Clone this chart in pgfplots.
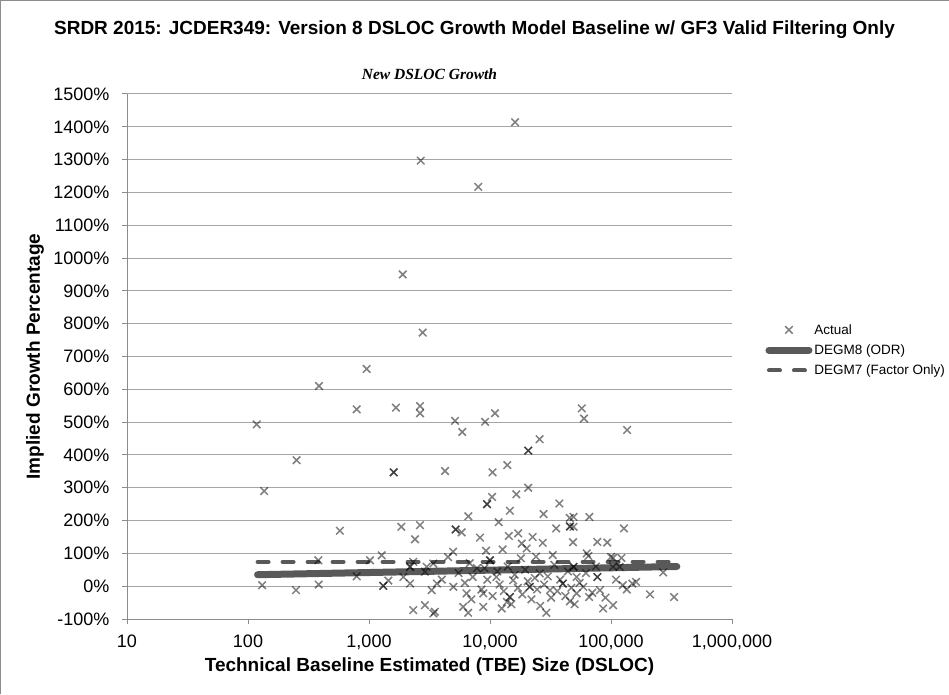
\documentclass[border=0pt]{standalone}
\usepackage{pgfplots}
\pgfplotsset{compat=1.18}
\usepackage{fontspec}
\setmainfont{Liberation Sans}
\newfontfamily\serifit{Liberation Serif}
\definecolor{lineg}{HTML}{595959}
\definecolor{gridg}{HTML}{A6A6A6}
\definecolor{axg}{HTML}{8C8C8C}
\begin{document}
\begin{tikzpicture}[x=1pt,y=1pt]
\useasboundingbox (0,0) rectangle (949,694);
\draw[axg, line width=1pt] (0.5,0) -- (0.5,693.5) -- (980,693.5);
\node[font=\bfseries\fontsize{19}{22}\selectfont] at (474.5,664) {SRDR 2015: JCDER349: Version 8 DSLOC Growth Model Baseline w/ GF3 Valid Filtering Only};
\begin{axis}[
  at={(127pt,75pt)}, anchor=south west, scale only axis,
  width=605pt, height=525pt,
  xmode=log, xmin=10, xmax=1000000,
  ymin=-100, ymax=1500,
  xtick={10,100,1000,10000,100000,1000000},
  xticklabels={10,100,{1,000},{10,000},{100,000},{1,000,000}},
  xminorticks=false,
  ytick={-100,0,100,200,300,400,500,600,700,800,900,1000,1100,1200,1300,1400,1500},
  yticklabels={-100\%,0\%,100\%,200\%,300\%,400\%,500\%,600\%,700\%,800\%,900\%,1000\%,1100\%,1200\%,1300\%,1400\%,1500\%},
  axis x line*=bottom, axis y line*=left,
  axis line style={-, draw=axg, line width=1pt},
  tick align=outside, major tick length=5pt,
  tick style={draw=axg, line width=1pt},
  ymajorgrids, grid style={gridg, line width=1pt},
  ticklabel style={font=\fontsize{18}{21}\selectfont},
  xticklabel style={yshift=-7pt},
  yticklabel style={xshift=-9pt},
  xlabel={Technical Baseline Estimated (TBE) Size (DSLOC)},
  ylabel={Implied Growth Percentage},
  xlabel style={font=\bfseries\fontsize{19}{22}\selectfont, at={(axis description cs:0.5,-0.0914)}, anchor=center},
  ylabel style={font=\bfseries\fontsize{19}{22}\selectfont, at={(axis description cs:-0.152,0.5)}, anchor=center, rotate=0},
  title={New DSLOC Growth},
  title style={font=\serifit\bfseries\itshape\fontsize{15.5}{18}\selectfont, at={(axis description cs:0.5,1)}, anchor=center, yshift=14pt},
  legend style={at={(axis description cs:1.05,0.512)}, anchor=west, draw=none, fill=none,
    font=\fontsize{13.5}{16}\selectfont, row sep=5pt, cells={anchor=west}},
  legend image code/.code={\draw[mark repeat=2,mark phase=2,#1] plot coordinates {(0pt,0pt) (20pt,0pt) (40pt,0pt)};},
  clip=false,
]
\addplot[only marks, mark=x, mark size=5.3pt, draw=black, opacity=0.5, mark options={line width=1.5pt}] table {
x y
118 493
136 290
252 384
386 610
957 662
791 539
1670 544
1600 347
1600 347
575 169
381 79
1019 79
1273 94
131 3
249 -12
384 5
791 30
1312 1
1312 1
1445 17
1850 181
2638 186
2400 143
1923 28
2183 59
2183 59
2183 8
2322 74
2995 59
3295 -12
2322 -73
2900 -58
3405 -83
2900 44
16100 1414
2675 1297
8000 1217
1900 950
2780 773
2640 549
2640 527
5140 504
5900 470
9100 501
11000 527
57300 542
59800 511
136000 476
4250 351
10500 347
13900 369
20700 413
20700 413
25700 448
10400 272
9450 250
9450 250
16500 280
20700 300
14600 230
6620 213
11800 195
27700 220
37400 252
45600 208
45800 182
45800 182
66200 211
128000 176
5200 173
5200 173
5830 164
8270 148
9270 108
12700 112
14300 153
17100 161
18300 130
22500 150
20100 115
27300 132
35200 176
48500 134
77100 135
93100 133
4950 105
65000 92
104000 86
122000 86
270000 42
210000 -25
332000 -33
77100 28
77100 28
10000 79
10000 79
4500 89
3400 69
7200 28
6400 -22
8800 -63
6000 -63
6600 -81
12500 -68
29200 -81
45800 -46
3500 -78
14600 -33
14600 -33
21300 -2
21300 -2
40000 8
40000 8
25800 39
15500 18
11300 28
3640 8
4980 -2
31300 -12
52000 -22
8800 -22
13800 -48
59000 -2
66000 -33
81000 -12
86000 -68
104000 -58
125000 3
150000 8
161000 13
52000 28
118000 59
104000 59
49000 59
49000 59
100000 89
49000 211
49000 181
5500 40
6200 10
7000 -40
7800 55
8500 -10
9500 20
10500 -30
11500 45
12000 5
13000 -15
14000 60
15000 -55
16000 35
17000 -5
18500 -25
19500 50
20500 15
22000 -40
23500 25
24500 -10
26000 -60
28000 5
30000 30
32000 -35
34000 65
36000 -15
38000 20
42000 -30
44000 45
47000 -5
50000 -55
55000 10
62000 40
70000 -20
75000 60
90000 -35
110000 20
135000 -10
6800 70
9000 55
18000 85
24000 90
33000 95
63000 100
4000 20
};
\addlegendentry{Actual}
\addplot[lineg, line width=7pt, line cap=round] table {
x y
120 35
350000 60
};
\addlegendentry{DEGM8 (ODR)}
\addplot[lineg, line width=4pt, line cap=round, dash pattern=on 11pt off 14pt] table {
x y
120 74
350000 74
};
\addlegendentry{DEGM7 (Factor Only)}
\end{axis}
\end{tikzpicture}
\end{document}
